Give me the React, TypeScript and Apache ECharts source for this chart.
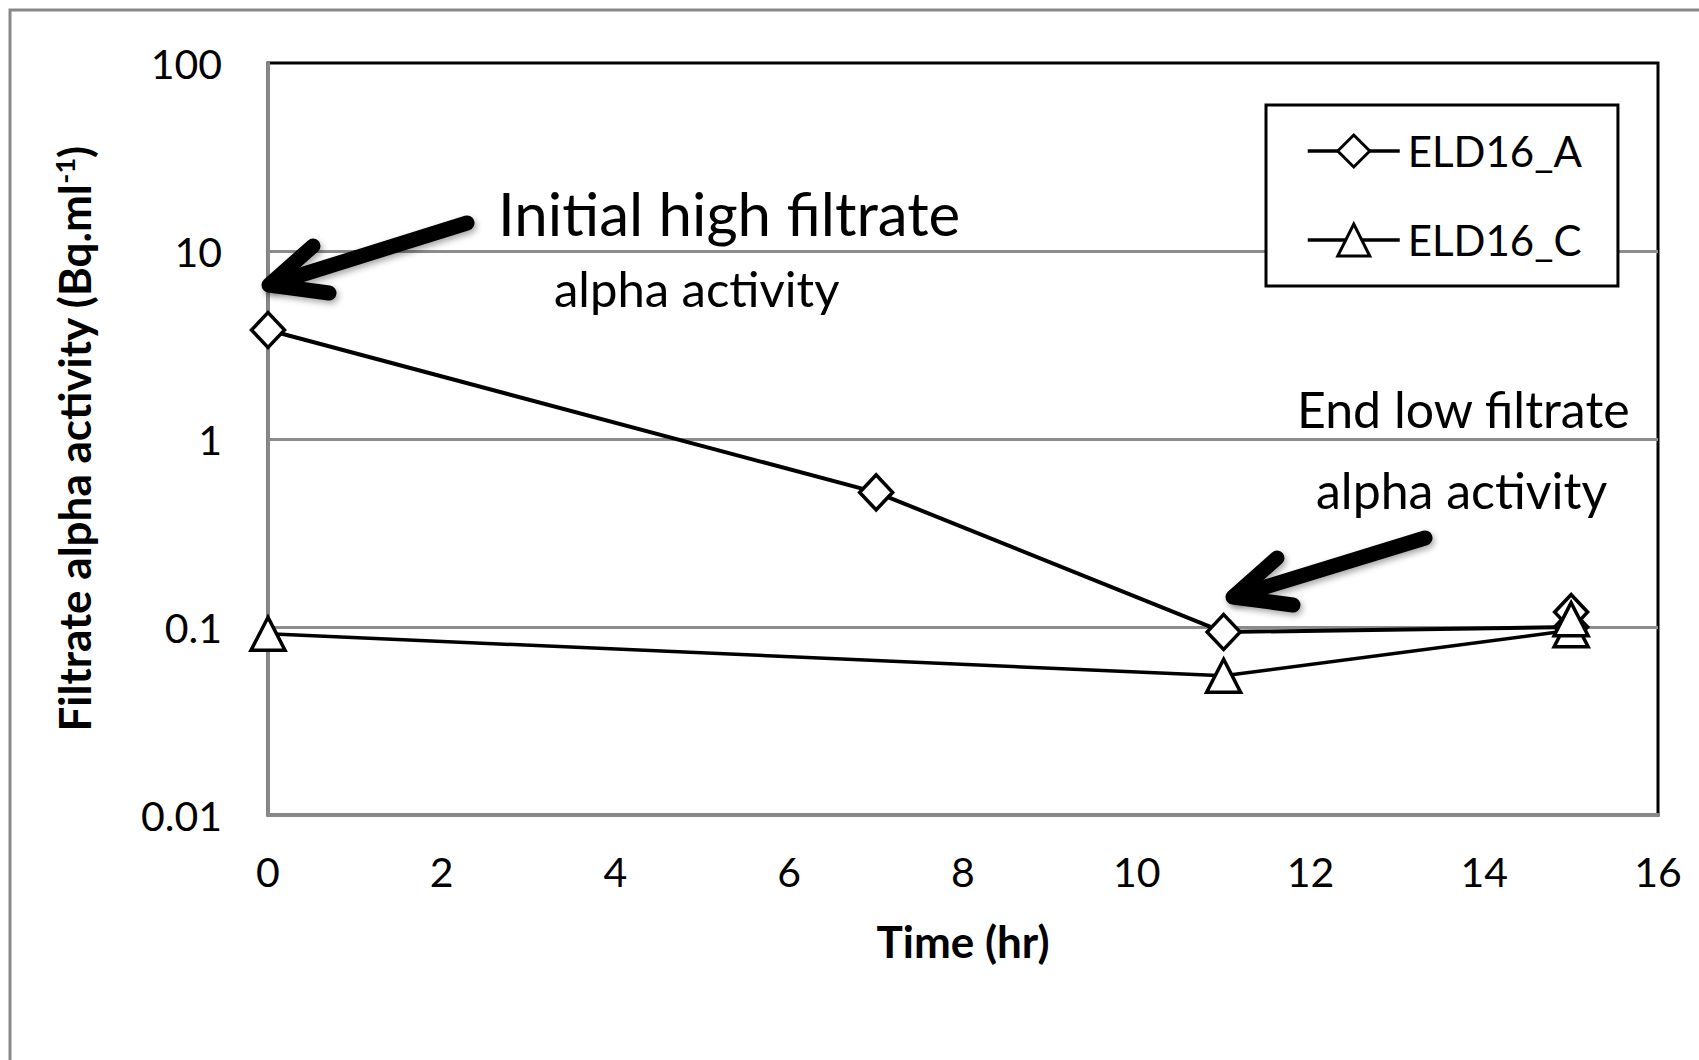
import React, { useEffect, useRef } from "react";
import * as echarts from "echarts";

const seriesNames = ["ELD16_A", "ELD16_C"];
const timeA = [0, 7, 11, 15, 15];
const valuesA = [3.8, 0.52, 0.094, 0.1, 0.12];
const timeC = [0, 11, 15, 15];
const valuesC = [0.092, 0.055, 0.096, 0.11];
const yTickLabels = ["0.01", "0.1", "1", "10", "100"];
const xTicks = [0, 2, 4, 6, 8, 10, 12, 14, 16];

const FONT = "Lato";

export default function App() {
  const ref = useRef<HTMLDivElement>(null);
  useEffect(() => {
    document.body.style.margin = "0";
    if (!ref.current) return;
    const chart = echarts.init(ref.current, undefined, { renderer: "svg" });
    const dataA = timeA.map((t, i) => [t, valuesA[i]]);
    const dataC = timeC.map((t, i) => [t, valuesC[i]]);
    const arrowStyle = {
      stroke: "#000",
      lineWidth: 15,
      lineCap: "round",
      lineJoin: "round",
      fill: null,
      shadowBlur: 6,
      shadowColor: "rgba(0,0,0,0.35)",
      shadowOffsetX: 2,
      shadowOffsetY: 3,
    };
    const option: any = {
      animation: false,
      backgroundColor: "#fff",
      textStyle: { fontFamily: FONT, color: "#000" },
      grid: {
        left: 268,
        top: 63,
        right: 41,
        bottom: 245,
        show: true,
        borderColor: "#000",
        borderWidth: 3,
        backgroundColor: "transparent",
      },
      xAxis: {
        type: "value",
        min: 0,
        max: 16,
        interval: 2,
        name: "Time (hr)",
        nameLocation: "middle",
        nameGap: 104,
        nameTextStyle: { fontFamily: FONT, fontSize: 44, fontWeight: "bold", color: "#000" },
        axisLine: { show: true, lineStyle: { color: "#888", width: 4 } },
        axisTick: { show: false },
        splitLine: { show: false },
        axisLabel: {
          fontFamily: FONT,
          fontSize: 41,
          color: "#000",
          margin: 36,
          formatter: (v: number) => (xTicks.includes(v) ? String(v) : ""),
        },
      },
      yAxis: {
        type: "log",
        logBase: 10,
        min: 0.01,
        max: 100,
        name: "{b|Filtrate alpha activity (Bq.ml}{s|-1}{b|)}",
        nameLocation: "middle",
        nameGap: 172,
        nameTextStyle: {
          rich: {
            b: { fontFamily: FONT, fontSize: 44, fontWeight: "bold", color: "#000" },
            s: { fontFamily: FONT, fontSize: 27, fontWeight: "bold", color: "#000", verticalAlign: "top", padding: [0, 0, 18, 0] },
          },
        },
        axisLine: { show: true, lineStyle: { color: "#888", width: 3 } },
        axisTick: { show: false },
        splitLine: { show: true, showMaxLine: false, lineStyle: { color: "#8c8c8c", width: 3 } },
        axisLabel: {
          fontFamily: FONT,
          fontSize: 41,
          color: "#000",
          margin: 46,
          formatter: (v: number) => {
            const idx = Math.round(Math.log10(v)) + 2;
            return yTickLabels[idx] ?? "";
          },
        },
      },
      legend: {
        left: 1266,
        top: 105,
        orient: "vertical",
        data: seriesNames,
        backgroundColor: "#fff",
        borderColor: "#000",
        borderWidth: 3,
        borderRadius: 0,
        padding: [25, 36, 25, 40],
        itemWidth: 92,
        itemHeight: 40,
        itemGap: 47,
        itemStyle: { borderWidth: 3, borderColor: "#000", color: "#fff" },
        lineStyle: { width: 3.5, color: "#000" },
        textStyle: { fontFamily: FONT, fontSize: 42, color: "#000", padding: [0, 0, 0, 3] },
      },
      series: [
        {
          name: seriesNames[0],
          type: "line",
          data: dataA,
          symbol: "diamond",
          symbolSize: [33, 35],
          showAllSymbol: true,
          itemStyle: { color: "#fff", borderColor: "#000", borderWidth: 3.5 },
          lineStyle: { color: "#000", width: 4 },
          z: 3,
        },
        {
          name: seriesNames[1],
          type: "line",
          data: dataC,
          symbol: "triangle",
          symbolSize: [34, 33],
          showAllSymbol: true,
          itemStyle: { color: "#fff", borderColor: "#000", borderWidth: 3.5 },
          lineStyle: { color: "#000", width: 3.5 },
          z: 3,
        },
      ],
      graphic: [
        {
          type: "polyline",
          shape: { points: [[10, 1080], [10, 10], [1720, 10]] },
          style: { stroke: "#888", lineWidth: 3, fill: null },
          silent: true,
        },
        {
          type: "line",
          shape: { x1: 467, y1: 223, x2: 272, y2: 284 },
          style: arrowStyle,
          z: 10,
        },
        {
          type: "polyline",
          shape: { points: [[313, 246], [269, 285], [329, 293]] },
          style: arrowStyle,
          z: 10,
        },
        {
          type: "line",
          shape: { x1: 1425, y1: 538, x2: 1236, y2: 596 },
          style: arrowStyle,
          z: 10,
        },
        {
          type: "polyline",
          shape: { points: [[1277, 558], [1233, 597], [1293, 605]] },
          style: arrowStyle,
          z: 10,
        },
        {
          type: "text",
          left: 498,
          top: 183,
          style: { text: "Initial high filtrate", font: `60px ${FONT}`, fill: "#000" },
          z: 10,
        },
        {
          type: "text",
          left: 554,
          top: 263,
          style: { text: "alpha activity", font: `49px ${FONT}`, fill: "#000" },
          z: 10,
        },
        {
          type: "text",
          left: 1297,
          top: 384,
          style: { text: "End low filtrate", font: `50px ${FONT}`, fill: "#000" },
          z: 10,
        },
        {
          type: "text",
          left: 1316,
          top: 465,
          style: { text: "alpha activity", font: `50px ${FONT}`, fill: "#000" },
          z: 10,
        },
      ],
    };
    chart.setOption(option);
    return () => chart.dispose();
  }, []);
  return <div ref={ref} style={{ width: 1699, height: 1060 }} />;
}
